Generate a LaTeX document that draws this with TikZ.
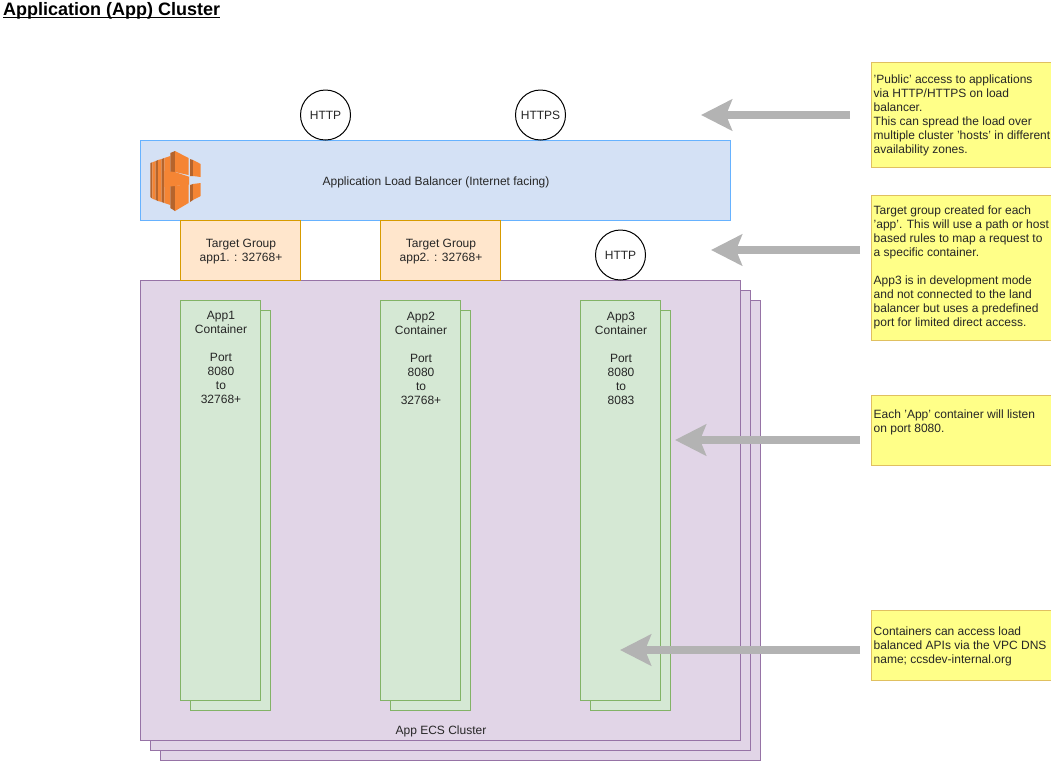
\documentclass[tikz,border=0pt]{standalone}
\usepackage{fontspec}
\setmainfont{Liberation Sans}
\usetikzlibrary{arrows.meta,positioning}
\definecolor{lbfill}{HTML}{D4E1F5}
\definecolor{lbline}{HTML}{66B2FF}
\definecolor{tgfill}{HTML}{FFE6CC}
\definecolor{tgline}{HTML}{D79B00}
\definecolor{ecsfill}{HTML}{E1D5E7}
\definecolor{ecsline}{HTML}{9673A6}
\definecolor{appfill}{HTML}{D5E8D4}
\definecolor{appline}{HTML}{82B366}
\definecolor{notefill}{HTML}{FFFF88}
\definecolor{noteline}{HTML}{E0C060}
\definecolor{arrgray}{HTML}{B3B3B3}
\definecolor{awsorange}{HTML}{F58534}
\definecolor{awsdark}{HTML}{B5642C}

\begin{document}
\begin{tikzpicture}[
    x=1pt, y=-1pt,
    txt/.style={font=\fontsize{12}{14}\selectfont, text=black!85, align=center},
    box/.style={draw, line width=1pt, inner sep=0pt, outer sep=0pt},
    lb/.style={box, draw=lbline, fill=lbfill, minimum width=590pt, minimum height=80pt},
    target/.style={box, draw=tgline, fill=tgfill, minimum width=120pt, minimum height=60pt},
    cluster/.style={box, draw=ecsline, fill=ecsfill, minimum width=600pt, minimum height=460pt},
    app/.style={box, draw=appline, fill=appfill, minimum width=80pt, minimum height=400pt},
    port/.style={box, txt, circle, draw=black, fill=white, minimum size=50pt},
    note/.style={box, draw=noteline, fill=notefill, minimum width=180pt},
    notetxt/.style={font=\fontsize{12}{14}\selectfont, text=black!85, align=left, inner sep=0pt},
    arr/.style={-{Stealth[length=31pt,width=31pt,inset=6pt]}, line width=8pt, arrgray}
  ]
  \useasboundingbox (0,0) rectangle (1051,761);
  % Title
  \node[anchor=base west, inner sep=0pt, font=\fontsize{18}{20}\selectfont\bfseries] (title) at (3,15.5)
        {\underline{\smash{Application (App) Cluster}}};
  % Cluster hosts
  \foreach \n/\d in {3/20,2/10,1/0} {
    \node[cluster] (host\n) at (440+\d,510+\d) {};
  }
  \node[txt] (hostlabel) at (441,731) {App ECS Cluster};
  % Load balancer
  \node[lb] (alb) at (435,180) {};
  \node[txt] (albtext) at (436,182) {Application Load Balancer (Internet facing)};
  % Balancer icon
  \fill[awsdark] (150.3,163) -- (152.3,162.3) -- (152.3,198.7) -- (150.3,197) -- cycle;
  \fill[awsorange] (152.3,162.3) -- (155.7,161) -- (155.7,200) -- (152.3,198.7) -- cycle;
  \fill[awsdark] (155.7,161) -- (158,160) -- (158,201) -- (155.7,200) -- cycle;
  \fill[awsorange] (158,160) -- (161.7,159) -- (161.7,202) -- (158,201) -- cycle;
  \fill[awsdark] (161.7,159) -- (164.3,158) -- (164.3,203) -- (161.7,202) -- cycle;
  \fill[awsorange] (164.3,158) -- (170.3,156) -- (170.3,205) -- (164.3,203) -- cycle;
  \fill[awsdark] (170.3,153) -- (175,151) -- (175,211) -- (170.3,208) -- cycle;
  \fill[awsorange] (175,151) -- (188.5,158) -- (188.5,175) -- (175,172) -- cycle;
  \fill[awsorange] (164.3,171) -- (175,172) -- (189,176.7) -- (189,184.5) -- (175,186) -- (164.3,187) -- cycle;
  \fill[awsorange] (175,186) -- (188.5,184) -- (188.5,203) -- (175,211) -- cycle;
  \fill[awsdark] (190,159) -- (193,160) -- (193,176) -- (190,176) -- cycle;
  \fill[awsorange] (193,160) -- (200.7,164) -- (200.7,177) -- (193,176) -- cycle;
  \fill[awsdark] (190,185) -- (193,184) -- (193,200) -- (190,202) -- cycle;
  \fill[awsorange] (193,184) -- (200.7,183) -- (200.7,196) -- (193,200) -- cycle;
  % Target groups
  \foreach \n/\x in {1/240,2/440} {
    \node[target] (tg\n) at (\x,250) {};
    \node[txt] (tgtext\n) at ([xshift=1pt,yshift=-2pt]tg\n.center) {Target Group\\app\n. : 32768+};
  }
  % Containers
  \foreach \n/\x/\p in {1/220/32768+,2/420/32768+,3/620/8083} {
    \node[app] (back\n) at (\x+10,510) {};
    \node[app] (app\n) at (\x,500) {};
    \node[txt, anchor=north, inner sep=0pt] (apptext\n) at ([xshift=1pt,yshift=-11.5pt]app\n.north)
          {App\n\\Container\\[14pt]Port\\8080\\to\\\p};
  }
  % Ports
  \node[port] (http1) at (325.5,115) {HTTP};
  \node[port] (https) at (540.5,115) {HTTPS};
  \node[port] (http3) at (620.5,255) {HTTP};
  % Notes
  \node[note, minimum height=105pt] (note1) at (961,115) {};
  \node[notetxt, anchor=west] (notetext1) at (873.5,115.5)
        {'Public' access to applications\\via HTTP/HTTPS on load\\balancer.\\This can spread the load over\\multiple cluster 'hosts' in different\\availability zones.};
  \node[note, minimum height=145pt] (note2) at (961,267.5) {};
  \node[notetxt, anchor=west] (notetext2) at (873.5,267.5)
        {Target group created for each\\'app'. This will use a path or host\\based rules to map a request to\\a specific container.\\[14pt]App3 is in development mode\\and not connected to the land\\balancer but uses a predefined\\port for limited direct access.};
  \node[note, minimum height=70pt] (note3) at (961,430) {};
  \node[notetxt, anchor=north west] (notetext3) at (873.5,410)
        {Each 'App' container will listen\\on port 8080.};
  \node[note, minimum height=70pt] (note4) at (961,645) {};
  \node[notetxt, anchor=west] (notetext4) at (873.5,646)
        {Containers can access load\\balanced APIs via the VPC DNS\\name; ccsdev-internal.org};
  % Pointer arrows
  \coordinate (from1) at (850,115);
  \coordinate (to1) at (701,115);
  \coordinate (from2) at (860,250);
  \coordinate (to2) at (711,250);
  \coordinate (from3) at (860,440);
  \coordinate (to3) at (675,440);
  \coordinate (from4) at (860,650);
  \coordinate (to4) at (620,650);
  \foreach \n in {1,2,3,4} {
    \draw[arr] (from\n) -- (to\n);
  }
\end{tikzpicture}
\end{document}
